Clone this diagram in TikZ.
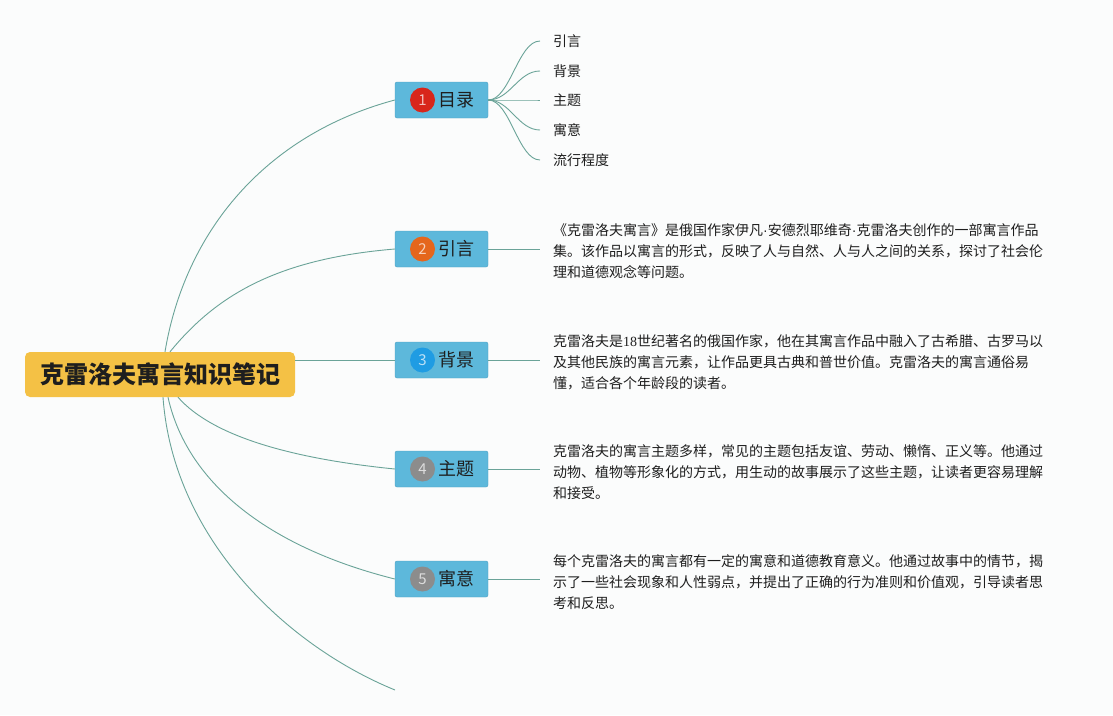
\documentclass[tikz,border=0pt]{standalone}
\usepackage{fontspec}
\setmainfont{Noto Sans CJK SC}
\newfontfamily\latinserif{Liberation Serif}
\newfontfamily\latinsans{Liberation Sans}
\usetikzlibrary{positioning}

\definecolor{branch}{HTML}{6AA398}
\definecolor{topicblue}{HTML}{5DB8DB}
\definecolor{topicedge}{HTML}{4E9FC0}
\definecolor{rootgold}{HTML}{F4C145}
\definecolor{dotred}{HTML}{D8261B}
\definecolor{dotorange}{HTML}{E5661C}
\definecolor{dotblue}{HTML}{1F9CE3}
\definecolor{dotgray}{HTML}{8C8C8C}
\definecolor{paper}{HTML}{FBFCFC}
\definecolor{ink}{HTML}{1E1E1E}

\newcommand{\middot}{{\latinsans ·}}

\begin{document}
\begin{tikzpicture}[x=1pt, y=-1pt, text=ink,
    root/.style={fill=rootgold, rounded corners=5pt, minimum width=270pt, minimum height=45pt,
        inner sep=0pt, font=\fontsize{24}{28}\selectfont\bfseries},
    topic/.style={draw=topicedge, fill=topicblue, rounded corners=2pt, minimum width=93pt,
        minimum height=36pt, inner sep=0pt},
    numdot/.style={circle, fill=#1, minimum size=25pt, inner sep=0pt, text=white!70!#1,
        font=\fontsize{15}{15}\selectfont},
    topictext/.style={inner sep=0pt, font=\fontsize{18}{20}\selectfont},
    leaf/.style={anchor=west, inner xsep=13pt, inner ysep=2pt, font=\fontsize{14}{16}\selectfont},
    note/.style={anchor=west, inner xsep=13pt, align=left, font=\fontsize{14}{21}\selectfont},
    link/.style={draw=branch, line width=0.9pt}]

    \useasboundingbox[fill=paper] (0,0) rectangle (1113,715);

    % Central topic
    \node[root] (root) at (160,374.5) {克雷洛夫寓言知识笔记};

    % Main branches
    \node[topic] (t1) at (441.5,100) {};
    \node[numdot=dotred, right=15pt of t1.west] (d1) {1};
    \node[topictext, right=3pt of d1] (l1) {目录};

    \node[topic] (t2) at (441.5,249) {};
    \node[numdot=dotorange, right=15pt of t2.west] (d2) {2};
    \node[topictext, right=3pt of d2] (l2) {引言};

    \node[topic] (t3) at (441.5,360) {};
    \node[numdot=dotblue, right=15pt of t3.west] (d3) {3};
    \node[topictext, right=3pt of d3] (l3) {背景};

    \node[topic] (t4) at (441.5,469) {};
    \node[numdot=dotgray, right=15pt of t4.west] (d4) {4};
    \node[topictext, right=3pt of d4] (l4) {主题};

    \node[topic] (t5) at (441.5,579) {};
    \node[numdot=dotgray, right=15pt of t5.west] (d5) {5};
    \node[topictext, right=3pt of d5] (l5) {寓意};

    \coordinate (tail) at (395,690);

    % Contents of the first branch
    \node[leaf] (c1) at (540,41) {引言};
    \node[leaf] (c2) at (540,71) {背景};
    \node[leaf] (c3) at (540,100) {主题};
    \node[leaf] (c4) at (540,130) {寓意};
    \node[leaf] (c5) at (540,160) {流行程度};

    % Notes
    \node[note] (p2) at (540,251) {《克雷洛夫寓言》是俄国作家伊凡\middot 安德烈耶维奇\middot 克雷洛夫创作的一部寓言作品\\
        集。该作品以寓言的形式，反映了人与自然、人与人之间的关系，探讨了社会伦\\
        理和道德观念等问题。};
    \node[note] (p3) at (540,362) {克雷洛夫是{\latinserif 18}世纪著名的俄国作家，他在其寓言作品中融入了古希腊、古罗马以\\
        及其他民族的寓言元素，让作品更具古典和普世价值。克雷洛夫的寓言通俗易\\
        懂，适合各个年龄段的读者。};
    \node[note] (p4) at (540,472) {克雷洛夫的寓言主题多样，常见的主题包括友谊、劳动、懒惰、正义等。他通过\\
        动物、植物等形象化的方式，用生动的故事展示了这些主题，让读者更容易理解\\
        和接受。};
    \node[note] (p5) at (540,582) {每个克雷洛夫的寓言都有一定的寓意和道德教育意义。他通过故事中的情节，揭\\
        示了一些社会现象和人性弱点，并提出了正确的行为准则和价值观，引导读者思\\
        考和反思。};

    % Connectors from the central topic
    \draw[link] ([xshift=5pt]root.north) .. controls +(20,-120) and +(-130,35) .. (t1.west);
    \draw[link] ([xshift=10pt]root.north) .. controls +(45,-55) and +(-120,10) .. (t2.west);
    \draw[link] (root.east |- t3.west) -- (t3.west);
    \draw[link] ([xshift=18pt]root.south) .. controls +(35,40) and +(-100,-10) .. (t4.west);
    \draw[link] ([xshift=8pt]root.south) .. controls +(20,90) and +(-120,-30) .. (t5.west);
    \draw[link] ([xshift=3pt]root.south) .. controls +(10,140) and +(-110,-45) .. (tail);

    % Connectors to the contents
    \foreach \c in {c1,c2,c3,c4,c5}
        \draw[link] (t1.east) .. controls +(22,0) and +(-22,0) .. (\c.west);

    % Connectors to the notes
    \draw[link] (t2.east) -- (t2.east -| p2.west);
    \draw[link] (t3.east) -- (t3.east -| p3.west);
    \draw[link] (t4.east) -- (t4.east -| p4.west);
    \draw[link] (t5.east) -- (t5.east -| p5.west);

\end{tikzpicture}
\end{document}
